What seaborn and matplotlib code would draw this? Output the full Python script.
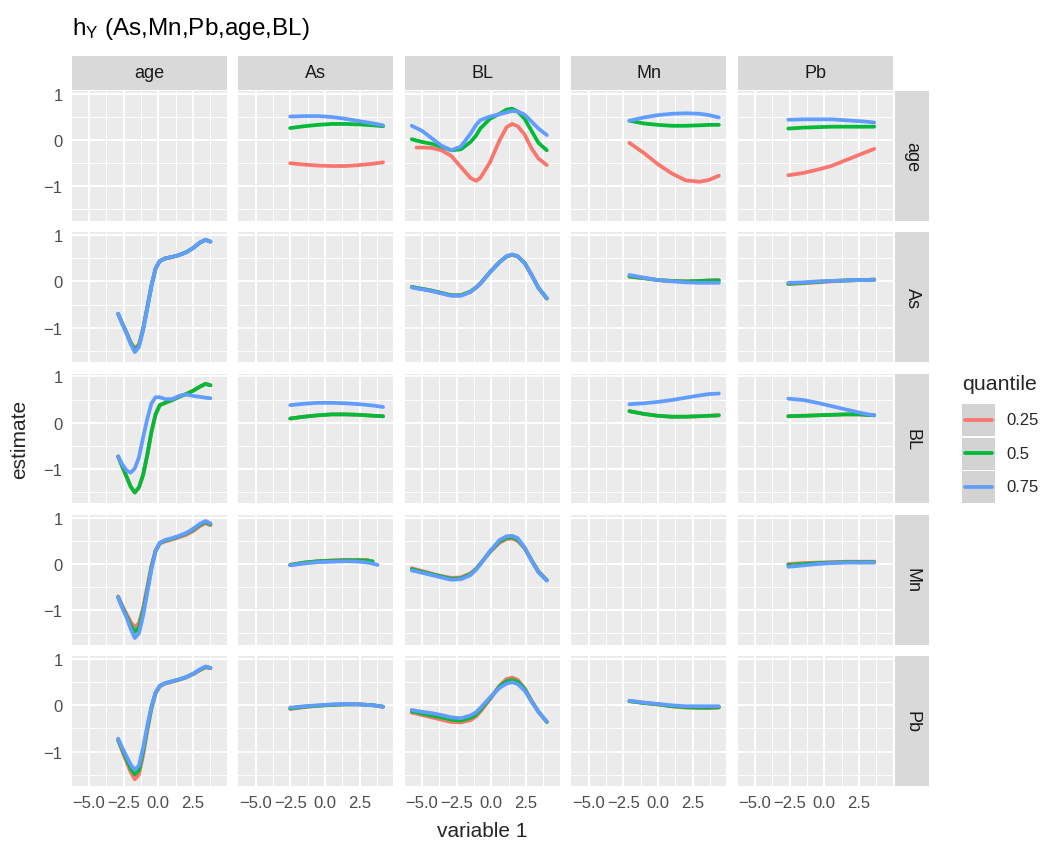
import numpy as np
import pandas as pd
import matplotlib
matplotlib.use("Agg")
import matplotlib.pyplot as plt
from matplotlib.patches import Rectangle
from matplotlib.lines import Line2D
import seaborn as sns

# Datos (h_Y por pares de variables, 3 cuantiles de la variable 2)

variables = ["age", "As", "BL", "Mn", "Pb"]
quantiles = ["0.25", "0.5", "0.75"]
colors = ["#F8766D", "#00BA38", "#619CFF"]

x_ticks = [-5.0, -2.5, 0.0, 2.5]
x_tick_labels = ["\u22125.0", "\u22122.5", "0.0", "2.5"]
y_ticks = [-1, 0, 1]
y_tick_labels = ["\u22121", "0", "1"]

# valores de la variable 1 (eje x) por columna
x_age = [-2.9, -2.6, -2.3, -2.0, -1.7, -1.4, -1.1, -0.8, -0.5, -0.2, 0.1, 0.5, 1.0, 1.5, 2.0, 2.5, 3.0, 3.4, 3.76]
x_as = [-2.5, -1.5, -0.5, 0.5, 1.5, 2.5, 3.5, 4.2]
x_as_mn = [-2.5, -1.5, -0.5, 0.5, 1.5, 2.5, 3.1, 3.45, 3.8]
x_bl = [-5.74, -5.4, -5.0, -4.3, -3.6, -2.9, -2.2, -1.5, -1.1, -0.8, -0.1, 0.6, 1.1, 1.5, 1.9, 2.4, 2.9, 3.4, 4.0]
x_mn = [-2.05, -1.0, 0.0, 1.0, 2.0, 3.0, 3.7, 4.4]
x_pb = [-2.6, -1.5, -0.5, 0.5, 1.5, 2.5, 3.0, 3.6]

nan = np.nan

# fila: age
age_As = {"0.25": [-0.50, -0.53, -0.55, -0.56, -0.56, -0.54, -0.51, -0.48],
          "0.5": [0.26, 0.30, 0.33, 0.35, 0.35, 0.34, 0.32, 0.30],
          "0.75": [0.51, 0.52, 0.52, 0.50, 0.46, 0.41, 0.36, 0.32]}
age_BL = {"0.25": [nan, -0.16, -0.16, -0.17, -0.22, -0.34, -0.58, -0.82, -0.88, -0.82, -0.48, 0.0, 0.28, 0.35, 0.30, 0.12, -0.18, -0.40, -0.54],
          "0.5": [0.02, -0.01, -0.04, -0.08, -0.14, -0.22, -0.20, -0.04, 0.10, 0.25, 0.46, 0.57, 0.66, 0.68, 0.62, 0.46, 0.20, -0.06, -0.22],
          "0.75": [0.31, 0.26, 0.20, 0.04, -0.12, -0.22, -0.14, 0.14, 0.33, 0.43, 0.51, 0.56, 0.60, 0.63, 0.62, 0.55, 0.40, 0.25, 0.11]}
age_Mn = {"0.25": [-0.06, -0.28, -0.52, -0.72, -0.87, -0.90, -0.86, -0.77],
          "0.5": [0.42, 0.36, 0.33, 0.31, 0.31, 0.32, 0.33, 0.33],
          "0.75": [0.42, 0.49, 0.54, 0.57, 0.58, 0.57, 0.54, 0.49]}
age_Pb = {"0.25": [-0.76, -0.71, -0.64, -0.56, -0.44, -0.32, -0.26, -0.19],
          "0.5": [0.25, 0.27, 0.28, 0.29, 0.29, 0.29, 0.29, 0.29],
          "0.75": [0.44, 0.45, 0.45, 0.45, 0.43, 0.41, 0.40, 0.38]}

# fila: As
As_age = {"0.25": [-0.70, -0.91, -1.10, -1.31, -1.45, -1.36, -1.02, -0.56, -0.09, 0.28, 0.44, 0.50, 0.53, 0.57, 0.63, 0.72, 0.84, 0.90, 0.86],
          "0.5": [-0.70, -0.91, -1.11, -1.33, -1.48, -1.39, -1.04, -0.57, -0.10, 0.28, 0.44, 0.50, 0.53, 0.57, 0.63, 0.72, 0.84, 0.90, 0.86],
          "0.75": [-0.70, -0.92, -1.12, -1.35, -1.53, -1.42, -1.05, -0.58, -0.10, 0.28, 0.44, 0.49, 0.53, 0.57, 0.63, 0.72, 0.84, 0.90, 0.86]}
As_BL = {"0.25": [-0.12, -0.14, -0.16, -0.20, -0.25, -0.30, -0.30, -0.22, -0.13, -0.05, 0.20, 0.42, 0.54, 0.58, 0.54, 0.40, 0.14, -0.14, -0.37],
         "0.5": [-0.12, -0.14, -0.16, -0.20, -0.25, -0.30, -0.30, -0.22, -0.13, -0.05, 0.20, 0.42, 0.54, 0.58, 0.54, 0.40, 0.14, -0.14, -0.37],
         "0.75": [-0.13, -0.15, -0.17, -0.21, -0.26, -0.31, -0.31, -0.23, -0.13, -0.05, 0.20, 0.42, 0.55, 0.58, 0.54, 0.40, 0.14, -0.14, -0.36]}
As_Mn = {"0.25": [0.10, 0.07, 0.03, 0.01, 0.0, 0.01, 0.02, 0.03],
         "0.5": [0.11, 0.07, 0.03, 0.01, 0.0, 0.01, 0.02, 0.02],
         "0.75": [0.14, 0.08, 0.03, 0.0, -0.02, -0.03, -0.03, -0.03]}
As_Pb = {"0.25": [-0.06, -0.04, -0.02, 0.0, 0.02, 0.03, 0.03, 0.04],
         "0.5": [-0.05, -0.03, -0.01, 0.01, 0.02, 0.03, 0.03, 0.04],
         "0.75": [-0.03, -0.02, 0.0, 0.01, 0.02, 0.03, 0.03, 0.03]}

# fila: BL (0.25 coincide con 0.5)
BL_age = {"0.25": [-0.73, -0.95, -1.16, -1.38, -1.51, -1.40, -1.13, -0.70, -0.20, 0.18, 0.38, 0.43, 0.49, 0.56, 0.62, 0.69, 0.78, 0.84, 0.81],
          "0.5": [-0.73, -0.95, -1.16, -1.38, -1.51, -1.40, -1.13, -0.70, -0.20, 0.18, 0.38, 0.43, 0.49, 0.56, 0.62, 0.69, 0.78, 0.84, 0.81],
          "0.75": [-0.73, -0.90, -1.03, -1.08, -0.99, -0.75, -0.32, 0.08, 0.42, 0.55, 0.55, 0.51, 0.51, 0.58, 0.61, 0.58, 0.56, 0.54, 0.53]}
BL_As = {"0.25": [0.09, 0.13, 0.16, 0.18, 0.18, 0.17, 0.15, 0.14],
         "0.5": [0.09, 0.13, 0.16, 0.18, 0.18, 0.17, 0.15, 0.14],
         "0.75": [0.38, 0.41, 0.43, 0.43, 0.42, 0.40, 0.37, 0.34]}
BL_Mn = {"0.25": [0.25, 0.19, 0.15, 0.13, 0.13, 0.14, 0.15, 0.16],
         "0.5": [0.25, 0.19, 0.15, 0.13, 0.13, 0.14, 0.15, 0.16],
         "0.75": [0.40, 0.42, 0.45, 0.49, 0.54, 0.59, 0.62, 0.63]}
BL_Pb = {"0.25": [0.14, 0.15, 0.16, 0.17, 0.18, 0.18, 0.17, 0.16],
         "0.5": [0.14, 0.15, 0.16, 0.17, 0.18, 0.18, 0.17, 0.16],
         "0.75": [0.52, 0.49, 0.43, 0.36, 0.29, 0.22, 0.19, 0.16]}

# fila: Mn
Mn_age = {"0.25": [-0.70, -0.90, -1.08, -1.25, -1.37, -1.28, -0.95, -0.50, -0.04, 0.30, 0.44, 0.49, 0.53, 0.58, 0.63, 0.71, 0.82, 0.88, 0.84],
          "0.5": [-0.72, -0.93, -1.12, -1.32, -1.47, -1.38, -1.02, -0.56, -0.08, 0.28, 0.45, 0.51, 0.55, 0.60, 0.66, 0.74, 0.85, 0.91, 0.86],
          "0.75": [-0.72, -0.95, -1.15, -1.40, -1.60, -1.50, -1.12, -0.62, -0.12, 0.28, 0.46, 0.52, 0.56, 0.61, 0.67, 0.76, 0.87, 0.93, 0.88]}
Mn_As = {"0.25": [-0.02, 0.03, 0.06, 0.08, 0.09, 0.09, 0.09, nan, nan],
         "0.5": [-0.02, 0.03, 0.06, 0.07, 0.08, 0.08, 0.07, 0.06, nan],
         "0.75": [-0.03, 0.01, 0.04, 0.05, 0.06, 0.05, 0.03, 0.01, -0.02]}
Mn_BL = {"0.25": [-0.09, -0.12, -0.15, -0.21, -0.26, -0.30, -0.29, -0.20, -0.10, 0.00, 0.26, 0.46, 0.54, 0.55, 0.50, 0.34, 0.08, -0.16, -0.35],
         "0.5": [-0.11, -0.14, -0.17, -0.22, -0.27, -0.32, -0.31, -0.22, -0.11, 0.0, 0.27, 0.49, 0.57, 0.58, 0.53, 0.35, 0.08, -0.17, -0.35],
         "0.75": [-0.14, -0.16, -0.19, -0.24, -0.29, -0.34, -0.33, -0.24, -0.12, -0.01, 0.28, 0.52, 0.60, 0.61, 0.56, 0.36, 0.07, -0.18, -0.36]}
Mn_Pb = {"0.25": [0.0, 0.02, 0.03, 0.04, 0.05, 0.05, 0.05, 0.05],
         "0.5": [-0.02, 0.0, 0.02, 0.03, 0.04, 0.04, 0.04, 0.04],
         "0.75": [-0.06, -0.03, 0.0, 0.02, 0.03, 0.03, 0.03, 0.03]}

# fila: Pb
Pb_age = {"0.25": [-0.76, -0.99, -1.22, -1.44, -1.60, -1.50, -1.08, -0.55, -0.08, 0.26, 0.41, 0.47, 0.51, 0.55, 0.60, 0.67, 0.76, 0.82, 0.80],
          "0.5": [-0.74, -0.96, -1.16, -1.36, -1.49, -1.40, -1.00, -0.50, -0.05, 0.27, 0.42, 0.48, 0.52, 0.56, 0.61, 0.68, 0.77, 0.83, 0.81],
          "0.75": [-0.72, -0.92, -1.10, -1.28, -1.40, -1.30, -0.92, -0.45, -0.02, 0.28, 0.42, 0.48, 0.52, 0.56, 0.61, 0.68, 0.78, 0.84, 0.81]}
Pb_As = {"0.25": [-0.08, -0.04, -0.01, 0.01, 0.02, 0.02, 0.0, -0.03],
         "0.5": [-0.07, -0.03, -0.01, 0.01, 0.02, 0.02, 0.0, -0.03],
         "0.75": [-0.05, -0.02, 0.0, 0.02, 0.03, 0.02, 0.0, -0.03]}
Pb_BL = {"0.25": [-0.16, -0.18, -0.21, -0.26, -0.31, -0.36, -0.37, -0.32, -0.24, -0.14, 0.13, 0.43, 0.57, 0.60, 0.55, 0.37, 0.10, -0.14, -0.36],
         "0.5": [-0.13, -0.15, -0.18, -0.22, -0.26, -0.31, -0.33, -0.27, -0.20, -0.10, 0.15, 0.41, 0.52, 0.55, 0.51, 0.35, 0.09, -0.14, -0.36],
         "0.75": [-0.10, -0.12, -0.14, -0.17, -0.21, -0.26, -0.28, -0.22, -0.15, -0.06, 0.17, 0.38, 0.47, 0.50, 0.46, 0.32, 0.08, -0.14, -0.35]}
Pb_Mn = {"0.25": [0.09, 0.05, 0.02, -0.02, -0.05, -0.06, -0.06, -0.05],
         "0.5": [0.09, 0.05, 0.02, -0.02, -0.04, -0.05, -0.05, -0.04],
         "0.75": [0.10, 0.06, 0.03, 0.0, -0.02, -0.02, -0.02, -0.02]}

# (fila = variable 2, columna = variable 1) -> (x, curvas)
panels = {
    ("age", "As"): (x_as, age_As), ("age", "BL"): (x_bl, age_BL),
    ("age", "Mn"): (x_mn, age_Mn), ("age", "Pb"): (x_pb, age_Pb),
    ("As", "age"): (x_age, As_age), ("As", "BL"): (x_bl, As_BL),
    ("As", "Mn"): (x_mn, As_Mn), ("As", "Pb"): (x_pb, As_Pb),
    ("BL", "age"): (x_age, BL_age), ("BL", "As"): (x_as, BL_As),
    ("BL", "Mn"): (x_mn, BL_Mn), ("BL", "Pb"): (x_pb, BL_Pb),
    ("Mn", "age"): (x_age, Mn_age), ("Mn", "As"): (x_as_mn, Mn_As),
    ("Mn", "BL"): (x_bl, Mn_BL), ("Mn", "Pb"): (x_pb, Mn_Pb),
    ("Pb", "age"): (x_age, Pb_age), ("Pb", "As"): (x_as, Pb_As),
    ("Pb", "BL"): (x_bl, Pb_BL), ("Pb", "Mn"): (x_mn, Pb_Mn),
}

# Estilo tipo ggplot

sns.set_theme(style="darkgrid", rc={"axes.facecolor": "#EBEBEB", "grid.color": "white"})
plt.rcParams["font.family"] = ["Liberation Sans", "DejaVu Sans"]
plt.rcParams["mathtext.fontset"] = "custom"
plt.rcParams["mathtext.rm"] = "Liberation Sans"

W, H = 1050, 853
fig = plt.figure(figsize=(W / 100, H / 100), dpi=100)
fig.patch.set_facecolor("white")


def rect(l, t, w, h):
    return [l / W, 1 - (t + h) / H, w / W, h / H]


col_left = [71.7 + 166.5 * j for j in range(5)]
row_top = [92.1 + 141.3 * i for i in range(5)]
pw, ph = 155, 129.7
palette = dict(zip(quantiles, colors))
lw = 2.7

for i, rv in enumerate(variables):
    for j, cv in enumerate(variables):
        ax = fig.add_axes(rect(col_left[j], row_top[i], pw, ph))
        ax.set_facecolor("#EBEBEB")
        if (rv, cv) in panels:
            xs, curves = panels[(rv, cv)]
            df = pd.concat([pd.DataFrame({"x": xs, "y": curves[q], "quantile": q}) for q in quantiles])
            df = df.dropna()
            sns.lineplot(data=df, x="x", y="y", hue="quantile", hue_order=quantiles,
                         palette=palette, linewidth=lw, legend=False, ax=ax,
                         estimator=None, sort=False)
        ax.set_xlim(-6.25, 4.93)
        ax.set_ylim(-1.745, 1.06)
        ax.set_xticks(x_ticks)
        ax.set_xticks([-3.75, -1.25, 1.25, 3.75], minor=True)
        ax.set_yticks(y_ticks)
        ax.set_yticks([-1.5, -0.5, 0.5], minor=True)
        ax.grid(which="major", color="white", linewidth=1.4)
        ax.grid(which="minor", color="white", linewidth=0.7)
        ax.set_axisbelow(True)
        for s in ax.spines.values():
            s.set_visible(False)
        ax.set_xlabel("")
        ax.set_ylabel("")
        ax.tick_params(which="minor", length=0)
        ax.tick_params(which="major", color="#333333", width=1.1, length=4.3,
                       pad=2.2, labelsize=12, labelcolor="#4D4D4D")
        if j == 0:
            ax.set_yticklabels(y_tick_labels)
        else:
            ax.tick_params(axis="y", length=0, labelleft=False)
        if i == 4:
            ax.set_xticklabels(x_tick_labels)
        else:
            ax.tick_params(axis="x", length=0, labelbottom=False)

# Tiras superiores y laterales
for j, cv in enumerate(variables):
    fig.add_artist(Rectangle((col_left[j] / W, 1 - 91 / H), pw / W, 34.3 / H,
                             transform=fig.transFigure, facecolor="#D9D9D9", edgecolor="none"))
    fig.text((col_left[j] + pw / 2) / W, 1 - 74 / H, cv, ha="center", va="center",
             fontsize=13, color="#1A1A1A")
for i, rv in enumerate(variables):
    fig.add_artist(Rectangle((895 / W, 1 - (row_top[i] + ph) / H), 34 / W, ph / H,
                             transform=fig.transFigure, facecolor="#D9D9D9", edgecolor="none"))
    fig.text(912 / W, 1 - (row_top[i] + ph / 2) / H, rv, ha="center", va="center",
             rotation=270, fontsize=13, color="#1A1A1A")

# Títulos
fig.text(71.7 / W, 1 - 29 / H, r"$\mathregular{h_Y}$ (As,Mn,Pb,age,BL)", ha="left", va="center",
         fontsize=17.5, color="black")
fig.text(482 / W, 1 - 832 / H, "variable 1", ha="center", va="center", fontsize=15)
fig.text(20 / W, 1 - 439.5 / H, "estimate", ha="center", va="center", rotation=90, fontsize=15)

# Leyenda
fig.text(962 / W, 1 - 385 / H, "quantile", ha="left", va="center", fontsize=15.4)
for k, q in enumerate(quantiles):
    top = 404 + 33.7 * k
    fig.add_artist(Rectangle((962 / W, 1 - (top + 33) / H), 33 / W, 32 / H,
                             transform=fig.transFigure, facecolor="#D3D3D3", edgecolor="none"))
    yc = 1 - (top + 16.5) / H
    fig.add_artist(Line2D([965 / W, 992 / W], [yc, yc], transform=fig.transFigure,
                          color=colors[k], linewidth=lw))
    fig.text(1006 / W, yc, q, ha="left", va="center", fontsize=12)

fig.savefig("out.png", dpi=100)
